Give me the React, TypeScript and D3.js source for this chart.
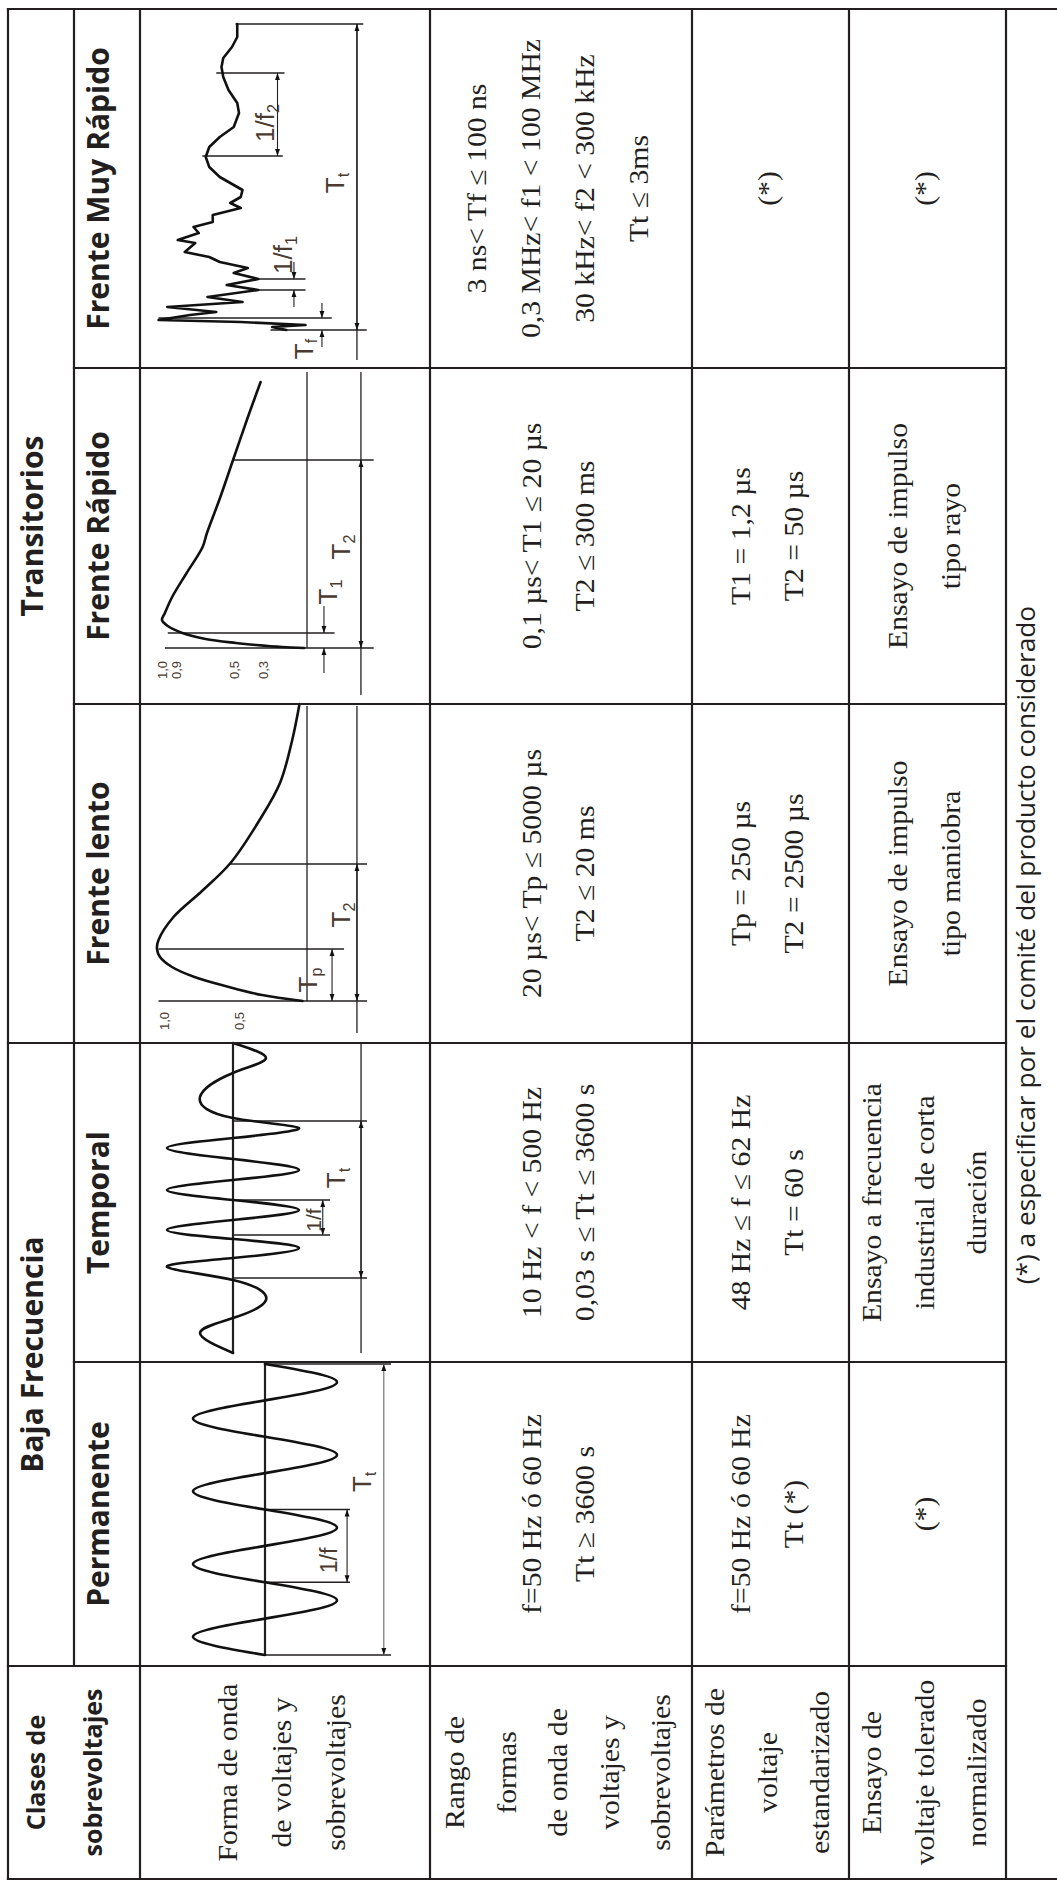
import React from "react";
import * as d3 from "d3";

// ---------------- DATA ----------------
const groupLabels = ["Transitorios", "Baja Frecuencia"];
const classLabels = ["Frente Muy Rápido", "Frente Rápido", "Frente lento", "Temporal", "Permanente"];
const cornerLabel = ["Clases de", "sobrevoltajes"];
const rowHeaderForma = ["Forma de onda", "de voltajes y", "sobrevoltajes"];
const rowHeaderRango = ["Rango de", "formas", "de onda de", "voltajes y", "sobrevoltajes"];
const rowHeaderParam = ["Parámetros de", "voltaje", "estandarizado"];
const rowHeaderEnsayo = ["Ensayo de", "voltaje tolerado", "normalizado"];
const rangoTexts = [
  ["3 ns< Tf ≤ 100 ns", "0,3 MHz< f1 < 100 MHz", "30 kHz< f2 < 300 kHz", "Tt ≤ 3ms"],
  ["0,1 µs< T1 ≤ 20 µs", "T2 ≤ 300 ms"],
  ["20 µs< Tp ≤ 5000 µs", "T2 ≤ 20 ms"],
  ["10 Hz < f < 500 Hz", "0,03 s ≤ Tt ≤ 3600 s"],
  ["f=50 Hz ó 60 Hz", "Tt ≥ 3600 s"],
];
const paramTexts = [
  ["(*)"],
  ["T1 = 1,2 µs", "T2 = 50 µs"],
  ["Tp = 250 µs", "T2 = 2500 µs"],
  ["48 Hz ≤ f ≤ 62 Hz", "Tt = 60 s"],
  ["f=50 Hz ó 60 Hz", "Tt (*)"],
];
const ensayoTexts = [
  ["(*)"],
  ["Ensayo de impulso", "tipo rayo"],
  ["Ensayo de impulso", "tipo maniobra"],
  ["Ensayo a frecuencia", "industrial de corta", "duración"],
  ["(*)"],
];
const footnote = "(*) a especificar por el comité del producto considerado";

// waveform samples (time, amplitude)
const fmrT = [0, 3, 5, 8, 10, 15, 18, 23, 28, 33, 40, 45, 51, 57, 62, 68, 73, 78, 87, 90, 97, 103, 108, 115, 122, 127, 133, 140, 146, 153, 163, 173, 183, 193, 203, 217, 227, 240, 253, 263, 272, 283, 293, 306];
const fmrV = [0.25, 0.33, 0.14, 0.51, 0.98, 0.8, 0.65, 0.93, 0.5, 0.7, 0.41, 0.59, 0.41, 0.55, 0.47, 0.63, 0.69, 0.83, 0.77, 0.87, 0.75, 0.78, 0.67, 0.67, 0.51, 0.57, 0.51, 0.5, 0.56, 0.63, 0.69, 0.71, 0.69, 0.63, 0.55, 0.52, 0.53, 0.58, 0.61, 0.62, 0.61, 0.56, 0.53, 0.53];

const rapidoT = [0, 1, 3, 5, 9, 15, 22, 28, 35, 51, 75, 101, 115, 150, 188, 230, 266];
const rapidoV = [0.02, 0.17, 0.35, 0.49, 0.7, 0.86, 0.96, 1.0, 0.98, 0.93, 0.83, 0.72, 0.69, 0.6, 0.51, 0.41, 0.32];

const lentoT = [0, 6, 14, 24, 34, 44, 52, 61, 84, 110, 138, 180, 218, 260, 297];
const lentoV = [0.03, 0.3, 0.52, 0.75, 0.9, 0.98, 1.0, 0.99, 0.89, 0.7, 0.51, 0.32, 0.18, 0.1, 0.05];

const tempT = [0, 10, 17.5, 26.5, 36.5, 43, 47.5, 52.5, 57, 61.5, 66.5, 71.5, 76.5, 81.5, 86.5, 91.5, 97, 102.5, 107.5, 112.5, 117.5, 128, 140, 147.5, 155];
const tempV = [0, 0.5, 0, -0.5, 0, 1, 0, -1, 0, 1, 0, -1, 0, 1, 0, -1, 0, 1, 0, -1, 0, 0.5, 0, -0.5, 0];

const permT = [0, 5, 10, 15, 20, 25, 30, 35, 40, 45, 50, 55, 60, 65, 70, 75, 80];
const permV = [0, 1, 0, -1, 0, 1, 0, -1, 0, 1, 0, -1, 0, 1, 0, -1, 0];

const fastLevels = [1.0, 0.9, 0.5, 0.3];
const slowLevels = [1.0, 0.5];

// ---------------- LAYOUT ----------------
const W = 1057;
const H = 1884;
const INK = "#231f20";
const LBL = "#4a3a30";
const X = { left: 8, group: 74, sub: 140, wave: 430, rango: 692, param: 849, right: 1006, edge: 1057 };
const bandY = [9, 368, 704, 1043, 1362, 1666, 1879];
const SERIF = "'Liberation Serif', 'Times New Roman', serif";
const SANS = "'Open Sans', 'DejaVu Sans', sans-serif";
const ARIAL = "'Liberation Sans', Arial, sans-serif";

function RText(props: any) {
  const { x, y, size, family = SERIF, weight = 400, sx = 1, anchor = "middle", fill = INK, baseline, children } = props;
  return (
    <text
      transform={`translate(${x},${y}) rotate(-90) scale(${sx},1)`}
      textAnchor={anchor}
      fontSize={size}
      fontFamily={family}
      fontWeight={weight}
      fill={fill}
      dominantBaseline={baseline}
    >
      {children}
    </text>
  );
}

function CellLines({ lines, x0, x1, cy, ls = 52.5 }: any) {
  const c = (x0 + x1) / 2;
  const n = lines.length;
  return (
    <g>
      {lines.map((s: string, i: number) => (
        <RText key={i} x={c + (i - (n - 1) / 2) * ls + 6} y={cy} size={27} sx={1.1}>
          {s}
        </RText>
      ))}
    </g>
  );
}

function Waveform({ cfg }: any) {
  const y = d3.scaleLinear().domain(cfg.tDomain).range(cfg.yRange);
  const x = d3.scaleLinear().domain(cfg.aDomain).range(cfg.xRange);
  const pts: [number, number][] = cfg.t.map((t: number, i: number) => [t, cfg.v[i]]);
  const line = d3
    .line<[number, number]>()
    .x((d) => x(d[1]))
    .y((d) => y(d[0]))
    .curve(cfg.curve);
  return (
    <g>
      {(cfg.lines || []).map((l: number[], i: number) => (
        <line key={"l" + i} x1={x(l[0])} x2={x(l[0])} y1={y(l[1])} y2={y(l[2])} stroke={INK} strokeWidth={l[3] ? 2.2 : 1.3} />
      ))}
      {(cfg.ticks || []).map((k: number[], i: number) => (
        <line key={"k" + i} x1={x(k[1])} x2={x(k[2])} y1={y(k[0])} y2={y(k[0])} stroke={INK} strokeWidth={1.6} />
      ))}
      {(cfg.dims || []).map((d: number[], i: number) => (
        <line
          key={"d" + i}
          x1={x(d[0])}
          x2={x(d[0])}
          y1={y(d[1])}
          y2={y(d[2])}
          stroke={d[3] ? "#666" : INK}
          strokeWidth={1.1}
          markerStart="url(#arr)"
          markerEnd="url(#arr)"
        />
      ))}
      {(cfg.arrows || []).map((d: number[], i: number) => (
        <line key={"a" + i} x1={x(d[0])} x2={x(d[0])} y1={y(d[1])} y2={y(d[2])} stroke={INK} strokeWidth={1.1} markerEnd="url(#arr)" />
      ))}
      <path d={line(pts) || ""} fill="none" stroke="#111" strokeWidth={2.6} strokeLinejoin="round" strokeLinecap="round" />
      {(cfg.labels || []).map((lb: any, i: number) => (
        <RText key={"t" + i} x={x(lb.a)} y={y(lb.t)} size={lb.size || 26} family={ARIAL} fill={LBL}>
          <tspan>{lb.m}</tspan>
          {lb.s ? (
            <tspan fontSize={(lb.size || 26) * 0.62} dy={(lb.size || 26) * 0.18}>
              {lb.s}
            </tspan>
          ) : null}
        </RText>
      ))}
      {(cfg.values || []).map((v: number, i: number) => (
        <RText key={"v" + i} x={x(v) + (cfg.valueShift || 0)} y={y(cfg.valueT)} size={13} family={ARIAL} fill={LBL} baseline="central">
          {String(v.toFixed(1)).replace(".", ",")}
        </RText>
      ))}
    </g>
  );
}

const waves = [
  {
    t: fmrT, v: fmrV, tDomain: [0, 306], yRange: [330, 24], aDomain: [0, 1], xRange: [330, 155], curve: d3.curveLinear,
    lines: [[-0.154, -30, 306]],
    ticks: [[306, 0.54, -0.19], [0, 0.34, -0.21], [12, 0.98, -0.01], [51, 0.42, 0.14], [40, 0.42, 0.14], [257, 0.65, 0.26], [174, 0.73, 0.27]],
    dims: [[-0.154, 0, 306], [0.3, 174, 257]],
    arrows: [[0.046, 27, 12], [0.046, -17, 0], [0.206, 68, 51], [0.206, 23, 40]],
    labels: [
      { m: "1/f", s: "2", t: 207, a: 0.32, size: 26 },
      { m: "1/f", s: "1", t: 75, a: 0.215, size: 26 },
      { m: "T", s: "t", t: 147, a: -0.08, size: 26 },
      { m: "T", s: "f", t: -19, a: 0.1, size: 26 },
    ],
  },
  {
    t: rapidoT, v: rapidoV, tDomain: [0, 280], yRange: [648, 368], aDomain: [0, 1], xRange: [307, 162], curve: d3.curveCatmullRom,
    lines: [[0, 0, 276], [-0.372, -47, 276]],
    ticks: [[0, 0.98, -0.46], [15, 0.96, -0.19], [188, 0.51, -0.46]],
    dims: [[-0.372, 0, 188]],
    arrows: [[-0.117, 42, 15], [-0.117, -25, 0]],
    labels: [
      { m: "T", s: "1", t: 56, a: -0.207, size: 26 },
      { m: "T", s: "2", t: 101, a: -0.297, size: 26 },
    ],
    values: fastLevels, valueT: -22, valueShift: 0,
  },
  {
    t: lentoT, v: lentoV, tDomain: [0, 297], yRange: [1001, 704], aDomain: [0, 1], xRange: [307, 157], curve: d3.curveCatmullRom,
    lines: [[0, 0, 295], [-0.333, -32, 295]],
    ticks: [[0, 0.99, -0.4], [52, 0.99, -0.247], [137, 0.52, -0.4]],
    dims: [[-0.333, 0, 137], [-0.167, 0, 52]],
    labels: [
      { m: "T", s: "p", t: 21, a: -0.067, size: 26 },
      { m: "T", s: "2", t: 86, a: -0.287, size: 26 },
    ],
    values: slowLevels, valueT: -20, valueShift: 7,
  },
  {
    t: tempT, v: tempV, tDomain: [0, 155], yRange: [1353, 1043], aDomain: [-1, 1], xRange: [299, 167], curve: d3.curveNatural,
    lines: [[0, 0, 155, 1], [-1.94, 0, 155]],
    ticks: [[37.5, 0, -2.03], [116, 0, -2.03], [59, 0, -1.47], [76.5, 0, -1.47]],
    dims: [[-1.94, 37.5, 116], [-1.36, 59, 76.5]],
    labels: [
      { m: "1/f", t: 66.5, a: -1.33, size: 21 },
      { m: "T", s: "t", t: 87.5, a: -1.7, size: 26 },
    ],
  },
  {
    t: permT, v: permV, tDomain: [0, 80], yRange: [1655, 1364], aDomain: [-1, 1], xRange: [337, 193], curve: d3.curveNatural,
    lines: [[0, -0.3, 80.5, 1]],
    ticks: [[0, 0, -1.75], [80, 0, -1.75], [20, 0, -1.18], [40, 0, -1.18]],
    dims: [[-1.65, 0, 80, 1], [-1.14, 20, 40]],
    labels: [
      { m: "1/f", t: 26, a: -1.0, size: 23 },
      { m: "T", s: "t", t: 47.6, a: -1.47, size: 26 },
    ],
  },
];

export default function App() {
  const vLines: number[][] = [
    [X.left, bandY[0], bandY[6]],
    [X.group, bandY[0], bandY[5]],
    [X.sub, bandY[0], bandY[6]],
    [X.wave, bandY[0], bandY[6]],
    [X.rango, bandY[0], bandY[6]],
    [X.param, bandY[0], bandY[6]],
    [X.right, bandY[0], bandY[6]],
  ];
  const hLines: number[][] = [
    [bandY[0], X.left, X.edge],
    [bandY[6], X.left, X.edge],
    [bandY[1], X.group, X.right],
    [bandY[2], X.group, X.right],
    [bandY[3], X.left, X.right],
    [bandY[4], X.group, X.right],
    [bandY[5], X.left, X.right],
  ];
  const centers = d3.range(5).map((i) => (bandY[i] + bandY[i + 1]) / 2);
  const cornerC = (bandY[5] + bandY[6]) / 2;
  const groupC = [(bandY[0] + bandY[3]) / 2, (bandY[3] + bandY[5]) / 2];

  return (
    <svg width={W} height={H} viewBox={`0 0 ${W} ${H}`} style={{ position: "absolute", left: 0, top: 0, background: "#fff" }}>
      <defs>
        <marker id="arr" viewBox="0 0 10 10" refX="10" refY="5" markerWidth="7" markerHeight="7" markerUnits="userSpaceOnUse" orient="auto-start-reverse">
          <path d="M0,1.5 L10,5 L0,8.5 z" fill="#111" />
        </marker>
      </defs>
      <rect width={W} height={H} fill="#fff" />

      {waves.map((w, i) => (
        <Waveform key={i} cfg={w} />
      ))}

      {vLines.map((l, i) => (
        <line key={"v" + i} x1={l[0]} x2={l[0]} y1={l[1]} y2={l[2]} stroke={INK} strokeWidth={2.2} strokeLinecap="square" />
      ))}
      {hLines.map((l, i) => (
        <line key={"h" + i} x1={l[1]} x2={l[2]} y1={l[0]} y2={l[0]} stroke={INK} strokeWidth={2.2} strokeLinecap="square" />
      ))}

      {groupLabels.map((g, i) => (
        <RText key={"g" + i} x={43} y={groupC[i]} size={30} family={SANS} weight={700}>
          {g}
        </RText>
      ))}
      {classLabels.map((c, i) => (
        <RText key={"c" + i} x={109} y={centers[i]} size={30} family={SANS} weight={700}>
          {c}
        </RText>
      ))}
      <RText x={45} y={cornerC} size={25} family={SANS} weight={700}>
        {cornerLabel[0]}
      </RText>
      <RText x={102} y={cornerC} size={25} family={SANS} weight={700}>
        {cornerLabel[1]}
      </RText>

      <CellLines lines={rowHeaderForma} x0={X.sub} x1={X.wave} cy={cornerC} ls={54} />
      <CellLines lines={rowHeaderRango} x0={X.wave} x1={X.rango} cy={cornerC} ls={51.5} />
      <CellLines lines={rowHeaderParam} x0={X.rango} x1={X.param} cy={cornerC} />
      <CellLines lines={rowHeaderEnsayo} x0={X.param} x1={X.right} cy={cornerC} />

      {rangoTexts.map((t, i) => (
        <CellLines key={"r" + i} lines={t} x0={X.wave} x1={X.rango} cy={centers[i]} ls={t.length > 2 ? 54 : 53} />
      ))}
      {paramTexts.map((t, i) => (
        <CellLines key={"p" + i} lines={t} x0={X.rango} x1={X.param} cy={centers[i]} />
      ))}
      {ensayoTexts.map((t, i) => (
        <CellLines key={"e" + i} lines={t} x0={X.param} x1={X.right} cy={centers[i]} />
      ))}

      <RText x={1035} y={(bandY[0] + bandY[6]) / 2 + 1} size={25} sx={1.05} family={SANS}>
        {footnote}
      </RText>
    </svg>
  );
}
